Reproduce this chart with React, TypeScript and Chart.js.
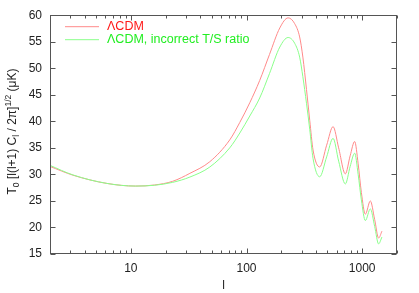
import { useEffect, useRef } from 'react';
import { Chart, registerables } from 'chart.js';

Chart.register(...registerables);

// ---- data ----
const MULTIPOLES = [2, 3.16, 6.2, 11, 16, 23, 32.4, 48.2, 71.6, 87.5, 106.7, 130, 158, 194, 229, 261, 288, 307, 330, 352, 376, 429, 493, 560, 626, 715, 787, 861, 923, 984, 1065, 1176, 1282, 1387, 1482];
const LCDM = [31.5, 29.85, 28.3, 27.8, 28.0, 28.7, 30.2, 32.4, 36.5, 39.8, 43.5, 47.7, 52.6, 57.6, 59.5, 58.4, 55.9, 52.1, 46.0, 40.2, 34.6, 31.4, 35.5, 39.0, 35.0, 30.1, 33.5, 36.2, 32.0, 26.6, 22.5, 25.0, 21.5, 18.0, 19.3];
const LCDM_INCORRECT = [31.7, 29.9, 28.3, 27.8, 27.95, 28.5, 29.5, 31.4, 35.0, 37.8, 41.0, 44.4, 49.0, 54.0, 55.8, 54.7, 52.1, 48.4, 43.4, 38.5, 33.0, 29.55, 33.3, 36.8, 32.5, 28.2, 31.5, 34.0, 30.0, 25.2, 21.3, 23.5, 20.2, 16.9, 18.2];
const SERIES_LABELS = ['\u039BCDM', '\u039BCDM, incorrect T/S ratio'];
const X_TICK_LABELS = [10, 100, 1000];
const X_MIN = 2;
const X_MAX = 2000;
const Y_MIN = 15;
const Y_MAX = 60;
const Y_STEP = 5;
const X_TITLE = 'l';

// ---- styles ----
const FONT = '"Liberation Sans", Arial, Helvetica, sans-serif';
const LINE_COLORS = ['#ff8a8a', '#8aff8a'];
const TEXT_COLORS = ['#ff1a1a', '#22ee22'];
const AXIS_COLOR = '#555555';
const LABEL_COLOR = '#222222';

const decorPlugin = {
  id: 'decor',
  afterDraw(chart: any) {
    const { ctx, chartArea: a, scales } = chart;
    const xs = scales.x;
    const ys = scales.y;
    ctx.save();
    // frame
    const L = Math.round(a.left) + 0.5;
    const R = Math.round(a.right) - 0.5;
    const T = Math.round(a.top) + 0.5;
    const B = Math.round(a.bottom) - 0.5;
    ctx.strokeStyle = AXIS_COLOR;
    ctx.lineWidth = 1;
    ctx.strokeRect(L, T, R - L, B - T);
    // y ticks (inward, both sides)
    ctx.beginPath();
    for (const t of ys.ticks) {
      const py = Math.round(ys.getPixelForValue(t.value)) + 0.5;
      ctx.moveTo(L, py); ctx.lineTo(L + 5, py);
      ctx.moveTo(R, py); ctx.lineTo(R - 5, py);
    }
    // x ticks (log, major+minor, inward, top and bottom)
    const e0 = Math.floor(Math.log10(xs.min));
    const e1 = Math.ceil(Math.log10(xs.max));
    for (let e = e0; e <= e1; e++) {
      for (let m = 1; m <= 9; m++) {
        const v = m * Math.pow(10, e);
        if (v < xs.min - 1e-9 || v > xs.max + 1e-9) continue;
        const len = m === 1 ? 5 : 3;
        const px = Math.round(xs.getPixelForValue(v)) + 0.5;
        ctx.moveTo(px, B); ctx.lineTo(px, B - len);
        ctx.moveTo(px, T); ctx.lineTo(px, T + len);
      }
    }
    ctx.stroke();

    // legend (inside top-left)
    const ds = chart.data.datasets;
    ds.forEach((d: any, i: number) => {
      const cy = a.top + 11 + i * 13;
      ctx.strokeStyle = d.borderColor;
      ctx.lineWidth = 1;
      ctx.beginPath();
      ctx.moveTo(a.left + 15, cy + 0.5);
      ctx.lineTo(a.left + 49, cy + 0.5);
      ctx.stroke();
      ctx.fillStyle = TEXT_COLORS[i];
      ctx.font = `12.5px ${FONT}`;
      ctx.textAlign = 'left';
      ctx.textBaseline = 'middle';
      ctx.fillText(d.label, a.left + 57, cy);
    });

    // x title
    ctx.fillStyle = LABEL_COLOR;
    ctx.font = `12px ${FONT}`;
    ctx.textAlign = 'center';
    ctx.textBaseline = 'middle';
    ctx.fillText(X_TITLE, (a.left + a.right) / 2, 286);

    // y title with sub/superscripts
    const parts: [string, number][] = [
      ['T', 0], ['0', 1], [' [l(l+1) C', 0], ['l', 1], [' / 2\u03C0]', 0], ['1/2', -1], [' (\u03BCK)', 0],
    ];
    const big = `12px ${FONT}`;
    const small = `8.5px ${FONT}`;
    let W = 0;
    for (const [s, k] of parts) { ctx.font = k === 0 ? big : small; W += ctx.measureText(s).width; }
    ctx.save();
    ctx.translate(16, 131.5);
    ctx.rotate(-Math.PI / 2);
    ctx.textAlign = 'left';
    ctx.textBaseline = 'alphabetic';
    let x = -W / 2;
    for (const [s, k] of parts) {
      ctx.font = k === 0 ? big : small;
      const dy = k === 1 ? 3 : k === -1 ? -5 : 0;
      ctx.fillText(s, x, dy);
      x += ctx.measureText(s).width;
    }
    ctx.restore();
    ctx.restore();
  },
};

export default function App() {
  const ref = useRef<HTMLCanvasElement | null>(null);
  useEffect(() => {
    if (!ref.current) return;
    const mk = (vals: number[]) => MULTIPOLES.map((l, i) => ({ x: l, y: vals[i] }));
    const chart = new Chart(ref.current, {
      type: 'line',
      data: {
        datasets: [
          { label: SERIES_LABELS[0], data: mk(LCDM), borderColor: LINE_COLORS[0], borderWidth: 1, pointRadius: 0, cubicInterpolationMode: 'monotone', fill: false, order: 2 },
          { label: SERIES_LABELS[1], data: mk(LCDM_INCORRECT), borderColor: LINE_COLORS[1], borderWidth: 1, pointRadius: 0, cubicInterpolationMode: 'monotone', fill: false, order: 1 },
        ],
      },
      options: {
        animation: false,
        responsive: false,
        events: [],
        layout: { padding: { top: 15, right: 22, left: 0, bottom: 0 } },
        plugins: { legend: { display: false }, tooltip: { enabled: false } },
        scales: {
          x: {
            type: 'logarithmic',
            min: X_MIN,
            max: X_MAX,
            grid: { display: false, drawTicks: false },
            border: { display: false },
            afterBuildTicks: (s: any) => { s.ticks = X_TICK_LABELS.map((v) => ({ value: v })); },
            afterFit: (s: any) => { s.height = 39; },
            ticks: { autoSkip: false, maxRotation: 0, padding: 7, color: LABEL_COLOR, font: { family: FONT, size: 12 }, callback: (v: any) => String(v) },
          },
          y: {
            type: 'linear',
            min: Y_MIN,
            max: Y_MAX,
            grid: { display: false, drawTicks: false },
            border: { display: false },
            afterFit: (s: any) => { s.width = 50; },
            ticks: { stepSize: Y_STEP, padding: 8, color: LABEL_COLOR, font: { family: FONT, size: 12 } },
          },
        },
      } as any,
      plugins: [decorPlugin],
    });
    return () => chart.destroy();
  }, []);
  return (
    <div style={{ position: 'fixed', left: 0, top: 0, width: 419, height: 293, background: '#fff' }}>
      <canvas ref={ref} width={419} height={293} style={{ display: 'block' }} />
    </div>
  );
}
